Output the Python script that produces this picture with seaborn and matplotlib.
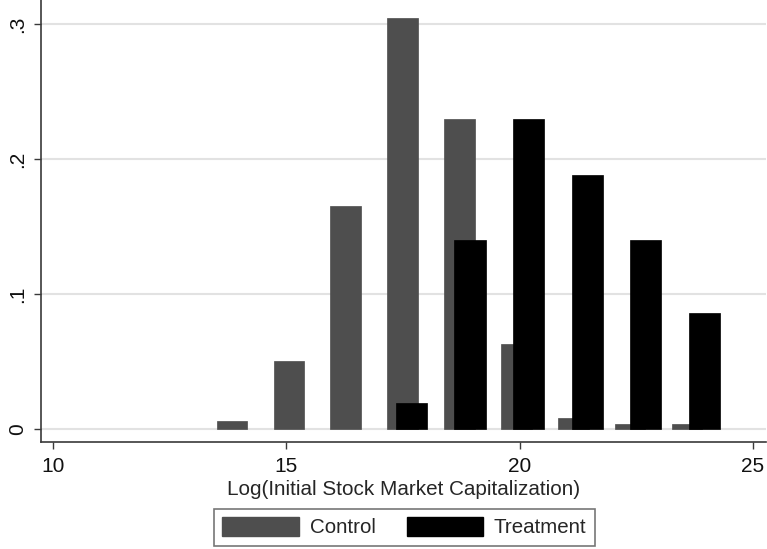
import matplotlib
matplotlib.use("Agg")
import matplotlib.pyplot as plt
import seaborn as sns
import pandas as pd
from matplotlib.patches import Patch

# Histogram bins (bin centres) and densities for each group
control_x = [13.83, 15.05, 16.27, 17.49, 18.71, 19.93, 21.15, 22.37, 23.59]
control_density = [0.006, 0.050, 0.165, 0.305, 0.230, 0.063, 0.008, 0.0035, 0.0035]
treatment_x = [17.68, 18.94, 20.19, 21.45, 22.70, 23.96]
treatment_density = [0.019, 0.140, 0.230, 0.188, 0.140, 0.086]

x_ticks = [10, 15, 20, 25]
y_ticks = [0, 0.1, 0.2, 0.3]
y_tick_labels = ["0", ".1", ".2", ".3"]
group_labels = ["Control", "Treatment"]
group_colors = ["#4e4e4e", "#000000"]

sns.set_theme(style="white")
plt.rcParams["font.family"] = ["Liberation Sans", "DejaVu Sans"]

control = pd.DataFrame({"x": control_x, "density": control_density})
treatment = pd.DataFrame({"x": treatment_x, "density": treatment_density})

fig = plt.figure(figsize=(7.67, 5.49), dpi=100)
ax = fig.add_axes([0.0535, 0.195, 0.9452, 0.805])

sns.barplot(data=control, x="x", y="density", native_scale=True, width=0.535,
            color=group_colors[0], saturation=1, edgecolor=group_colors[0],
            linewidth=0.5, ax=ax)
sns.barplot(data=treatment, x="x", y="density", native_scale=True, width=0.54,
            color=group_colors[1], saturation=1, edgecolor=group_colors[1],
            linewidth=0.5, ax=ax)

ax.set_xlim(9.74, 25.28)
ax.set_ylim(-0.0097, 0.318)
ax.set_xticks(x_ticks)
ax.set_xticklabels([str(t) for t in x_ticks], fontsize=15)
ax.set_yticks(y_ticks)
ax.set_yticklabels(y_tick_labels, fontsize=15, rotation=90, va="center")
ax.set_xlabel("Log(Initial Stock Market Capitalization)", fontsize=14.9, labelpad=3)
ax.set_ylabel("")

ax.yaxis.grid(True, color="#e2e2e2", linewidth=1.5)
ax.xaxis.grid(False)
ax.set_axisbelow(True)

for side in ["top", "right"]:
    ax.spines[side].set_visible(False)
for side in ["left", "bottom"]:
    ax.spines[side].set_color("#3a3a3a")
    ax.spines[side].set_linewidth(1.2)

ax.tick_params(axis="x", which="major", direction="out", length=5, width=1,
               color="#3a3a3a", labelcolor="#111111", pad=6, bottom=True)
ax.tick_params(axis="y", which="major", direction="out", length=5, width=1,
               color="#3a3a3a", labelcolor="#111111", pad=5, left=True)

handles = [Patch(facecolor=c, edgecolor=c) for c in group_colors]
leg = fig.legend(handles, group_labels, loc="center", bbox_to_anchor=(0.5274, 0.040),
                 ncol=2, frameon=True, fancybox=False, fontsize=14.8,
                 handlelength=3.7, handleheight=1.05, handletextpad=0.55,
                 columnspacing=1.5, borderpad=0.4)
leg.get_frame().set_edgecolor("#555555")
leg.get_frame().set_linewidth(1.2)

fig.savefig("out.png", dpi=100, facecolor="white")
